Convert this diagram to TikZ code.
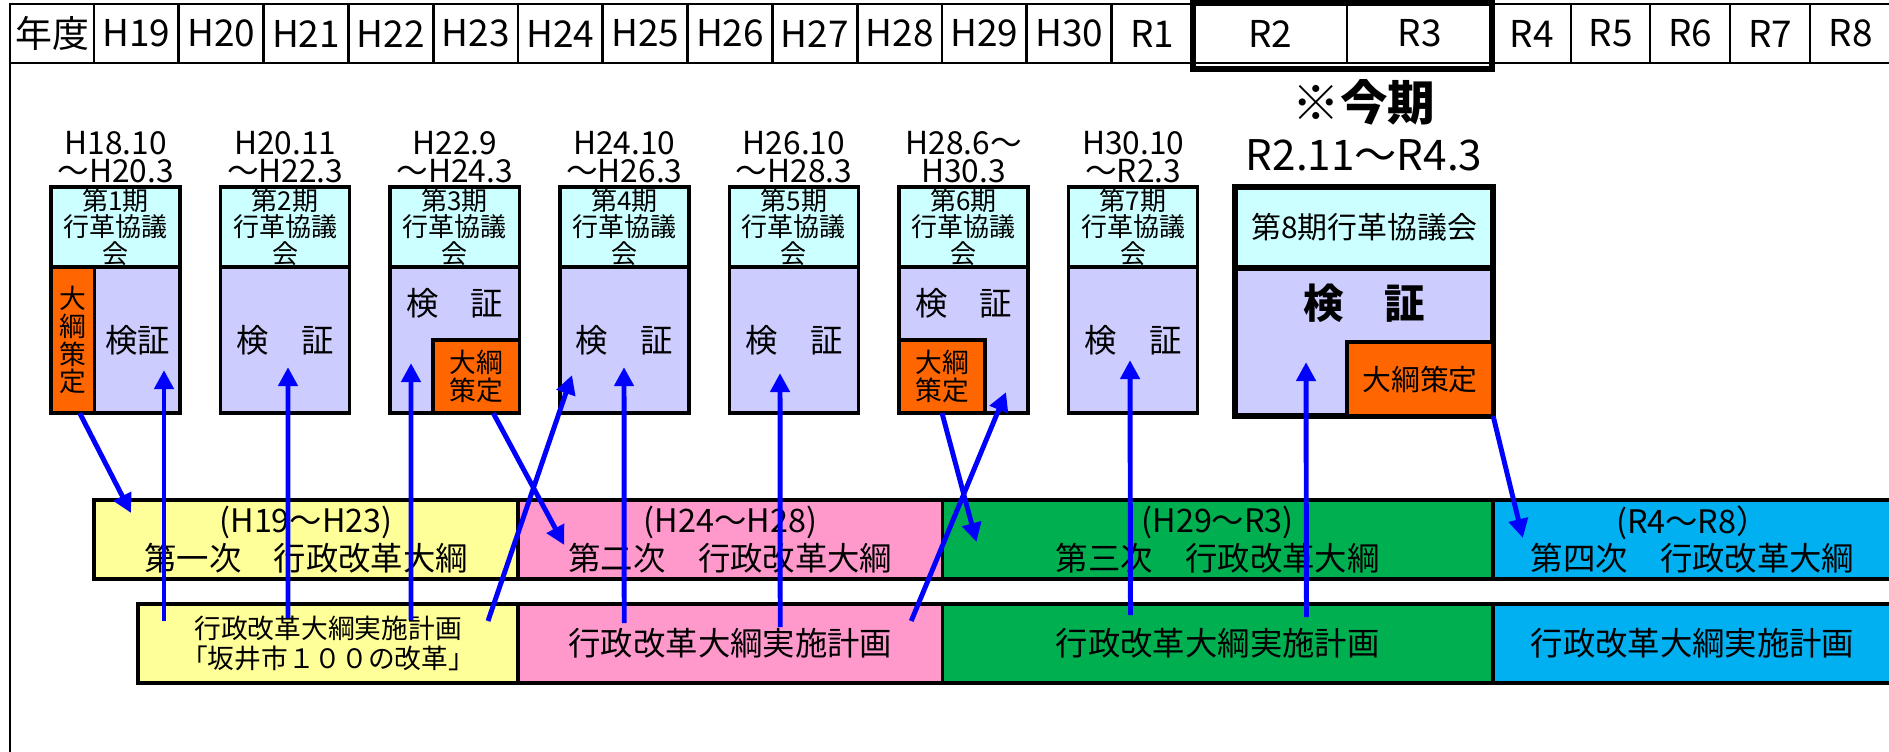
\documentclass[tikz,border=0pt]{standalone}
\usepackage{fontspec}
\setmainfont{Noto Sans CJK JP}
\usepackage{tikz}
\usetikzlibrary{arrows.meta,positioning,calc}
\definecolor{kgcyan}{RGB}{204,255,255}
\definecolor{kglav}{RGB}{204,204,255}
\definecolor{kgorange}{RGB}{255,102,0}
\definecolor{kgyellow}{RGB}{255,255,153}
\definecolor{kgpink}{RGB}{255,153,204}
\definecolor{kggreen}{RGB}{0,176,80}
\definecolor{kgblue}{RGB}{0,176,240}
\definecolor{kgarrow}{RGB}{0,0,255}
\tikzstyle{arrow} = [line width=1.4pt,-{Triangle[length=5.4pt,width=5.4pt]},color=kgarrow]
\tikzstyle{yearcell} = [rectangle, draw, line width=0.8pt, minimum height=0.59cm, inner sep=0pt, outer sep=0pt, font=\fontsize{10.5}{12}\selectfont]
\tikzstyle{councilhead} = [rectangle, anchor=north west, draw, line width=1pt, fill=kgcyan, minimum width=1.29cm, minimum height=0.8cm, inner sep=0pt, outer sep=0pt, align=center, font=\fontsize{7.4}{7.5}\selectfont]
\tikzstyle{councilbody} = [rectangle, draw, line width=1pt, fill=kglav, minimum width=1.29cm, minimum height=1.46cm, inner sep=0pt, outer sep=0pt]
\tikzstyle{outlinebox} = [rectangle, draw, line width=1pt, fill=kgorange, inner sep=0pt, outer sep=0pt, align=center, font=\fontsize{7.6}{7.9}\selectfont]
\tikzstyle{kenshou} = [inner sep=0pt, font=\fontsize{9.2}{9.5}\selectfont]
\tikzstyle{termlabel} = [inner sep=0pt, align=center, font=\fontsize{9}{8}\selectfont]
\tikzstyle{planband} = [rectangle, anchor=north west, draw, line width=1pt, minimum height=0.79cm, inner sep=0pt, outer sep=0pt, align=center, font=\fontsize{9.2}{9.2}\selectfont]

\begin{document}
\begin{tikzpicture}[x=0.01cm, y=-0.01cm]
    \useasboundingbox (0,0) rectangle (1889,752);

    % Year row
    \foreach \lbl/\xa/\xb [count=\i] in {年度/10/94, H19/94/178.8, H20/178.8/263.6, H21/263.6/348.4, H22/348.4/433.2, H23/433.2/518, H24/518/602.8, H25/602.8/687.6, H26/687.6/772.4, H27/772.4/857.2, H28/857.2/942, H29/942/1026.8, H30/1026.8/1111.6, R1/1111.6/1193, R2/1193/1347, R3/1347/1492, R4/1492/1571, R5/1571/1650, R6/1650/1730, R7/1730/1810, R8/1810/1891}
        \node[yearcell, minimum width={(\xb-\xa)*0.01cm}] (nd\i) at ({(\xa+\xb)/2},33.5) {\lbl};
    \node[draw, line width=1.8pt, minimum width=2.99cm, minimum height=0.66cm, inner sep=0pt] (now) at (1342.5,36) {};
    \draw[line width=0.8pt] (nd1.north west) -- ++(0,760);

    % Councils
    \foreach \n/\xl/\dates in {1/51/{H18.10\\～H20.3}, 2/220.6/{H20.11\\～H22.3}, 3/390.2/{H22.9\\～H24.3}, 4/559.8/{H24.10\\～H26.3}, 5/729.4/{H26.10\\～H28.3}, 6/899/{H28.6～\\H30.3}, 7/1068.6/{H30.10\\～R2.3}} {
        \node[councilhead] (hd\n) at (\xl,187) {第{\n}期\\行革協議\\会};
        \node[councilbody, below=0pt of hd\n] (bd\n) {};
        \node[termlabel] (tm\n) at ($(hd\n.north)+(0,-30)$) {\dates};
    }
    \node[outlinebox, anchor=north west, minimum width=0.435cm, minimum height=1.46cm] (tk1) at (bd1.north west) {大\\綱\\策\\定};
    \node[kenshou] (kn1) at ($(bd1.center)+(22,0)$) {検証};
    \node[kenshou] (kn2) at (bd2.center) {検　証};
    \node[kenshou] (kn3) at ($(bd3.center)+(0,-37)$) {検　証};
    \node[outlinebox, anchor=south east, minimum width=0.86cm, minimum height=0.73cm] (tk3) at (bd3.south east) {大綱\\策定};
    \node[kenshou] (kn4) at (bd4.center) {検　証};
    \node[kenshou] (kn5) at (bd5.center) {検　証};
    \node[kenshou] (kn6) at ($(bd6.center)+(0,-37)$) {検　証};
    \node[outlinebox, anchor=south west, minimum width=0.86cm, minimum height=0.73cm] (tk6) at (bd6.south west) {大綱\\策定};
    \node[kenshou] (kn7) at (bd7.center) {検　証};

    % Current term
    \node[termlabel, font=\bfseries\fontsize{13.5}{14}\selectfont] (cur1) at (1364,102) {※今期};
    \node[termlabel, font=\fontsize{12}{13}\selectfont] (cur2) at (1364,155) {R2.11～R4.3};
    \node[councilhead, line width=1.7pt, minimum width=2.58cm, minimum height=0.81cm, font=\fontsize{8.5}{9}\selectfont] (hd8) at (1235,187) {第8期行革協議会};
    \node[councilbody, line width=1.7pt, minimum width=2.58cm, minimum height=1.48cm, below=0pt of hd8] (bd8) {};
    \node[kenshou, font=\bfseries\fontsize{11.5}{12}\selectfont] (kn8) at ($(bd8.center)+(0,-39)$) {検　証};
    \node[outlinebox, anchor=south east, minimum width=1.46cm, minimum height=0.74cm, font=\fontsize{8.2}{9}\selectfont] (tk8) at (bd8.south east) {大綱策定};

    % Plans
    \node[planband, fill=kgyellow, minimum width=4.24cm] (kou1) at (94,500) {(H19～H23)\\第一次　行政改革大綱};
    \node[planband, fill=kgpink, minimum width=4.24cm, right=0pt of kou1] (kou2) {(H24～H28)\\第二次　行政改革大綱};
    \node[planband, fill=kggreen, minimum width=5.5cm, right=0pt of kou2] (kou3) {(H29～R3)\\第三次　行政改革大綱};
    \node[planband, fill=kgblue, minimum width=3.99cm, right=0pt of kou3] (kou4) {(R4～R8）\\第四次　行政改革大綱};
    \node[planband, fill=kgyellow, minimum width=3.8cm, font=\fontsize{7.6}{8.3}\selectfont] (plan1) at (138,604) {行政改革大綱実施計画\\「坂井市１００の改革」};
    \node[planband, fill=kgpink, minimum width=4.24cm, right=0pt of plan1] (plan2) {行政改革大綱実施計画};
    \node[planband, fill=kggreen, minimum width=5.5cm, right=0pt of plan2] (plan3) {行政改革大綱実施計画};
    \node[planband, fill=kgblue, minimum width=3.99cm, right=0pt of plan3] (plan4) {行政改革大綱実施計画};

    % Arrows
    \draw[arrow] ($(tk1.south)+(7,0)$) -- ($(kou1.north west)+(37,13)$);
    \draw[arrow] ($(plan1.north west)+(26,17)$) -- ($(bd1.south west)+(113,-43)$);
    \draw[arrow] ($(plan1.north west)+(150,14)$) -- ($(bd2.south west)+(67.4,-46)$);
    \draw[arrow] ($(plan1.north west)+(273,16)$) -- ($(bd3.south west)+(20.8,-50)$);
    \draw[arrow] ($(plan1.north west)+(350,17)$) -- ($(bd4.south west)+(12.2,-38)$);
    \draw[arrow] ($(tk3.south)+(17,0)$) -- ($(kou2.north west)+(46,45)$);
    \draw[arrow] ($(plan2.north west)+(106,19)$) -- ($(bd4.south west)+(64.2,-46)$);
    \draw[arrow] ($(plan2.north west)+(262,23)$) -- ($(bd5.south west)+(50.6,-40)$);
    \draw[arrow] (tk6.south) -- ($(kou3.north west)+(34,42)$);
    \draw[arrow] ($(plan2.north west)+(393,17)$) -- ($(bd6.south west)+(107,-21)$);
    \draw[arrow] ($(plan3.north west)+(188,11)$) -- ($(bd7.south west)+(61.4,-53)$);
    \draw[arrow] ($(plan3.north west)+(364,13)$) -- ($(bd8.south west)+(71,-54)$);
    \draw[arrow] (tk8.south east) -- ($(kou4.north west)+(30,38)$);
\end{tikzpicture}
\end{document}
